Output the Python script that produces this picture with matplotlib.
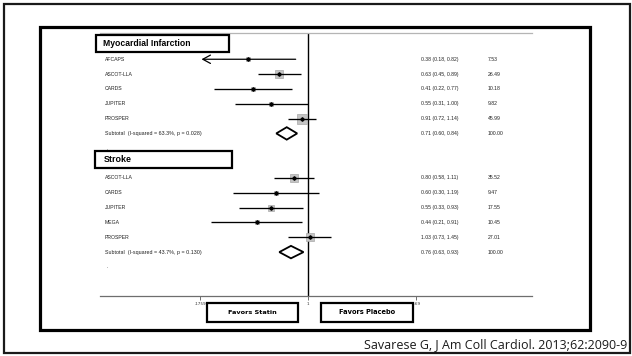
import numpy as np
import matplotlib
matplotlib.use("Agg")
import matplotlib.pyplot as plt
from matplotlib.patches import Rectangle, Polygon
from matplotlib.transforms import Affine2D, blended_transform_factory

W, H = 632, 356

# ---------------- data ----------------
mi_title = "Myocardial Infarction"
mi_studies = ["AFCAPS", "ASCOT-LLA", "CARDS", "JUPITER", "PROSPER"]
mi_or = [0.38, 0.63, 0.41, 0.55, 0.91]
mi_lo = [0.18, 0.45, 0.22, 0.31, 0.72]
mi_hi = [0.82, 0.89, 0.77, 1.00, 1.14]
mi_w = [7.53, 26.49, 10.18, 9.82, 45.99]
mi_sub = [0.71, 0.60, 0.84]
mi_sub_label = "Subtotal  (I-squared = 63.3%, p = 0.028)"

st_title = "Stroke"
st_studies = ["ASCOT-LLA", "CARDS", "JUPITER", "MEGA", "PROSPER"]
st_or = [0.80, 0.60, 0.55, 0.44, 1.03]
st_lo = [0.58, 0.30, 0.33, 0.21, 0.73]
st_hi = [1.11, 1.19, 0.93, 0.91, 1.45]
st_w = [35.52, 9.47, 17.55, 10.45, 27.01]
st_sub = [0.76, 0.63, 0.93]
st_sub_label = "Subtotal  (I-squared = 43.7%, p = 0.130)"

xticks = [0.1759, 1, 5.69]
xticklabels = [".1759", "1", "5.69"]
left_label = "Favors Statin"
right_label = "Favors Placebo"
citation = "Savarese G, J Am Coll Cardiol. 2013;62:2090-9"

# ---------------- figure ----------------
fig = plt.figure(figsize=(W / 100, H / 100), dpi=100)
renderer = fig.canvas.get_renderer()
pxT = Affine2D().scale(1 / W, -1 / H).translate(0, 1) + fig.transFigure


def fit(t, target_px):
    """scale a text's font size so that its rendered width is target_px"""
    w = t.get_window_extent(renderer=renderer).width
    if w > 0:
        t.set_fontsize(t.get_fontsize() * target_px / w)
    return t


# frames
fig.add_artist(Rectangle((4, 4), 626, 349, transform=pxT, fill=False,
                         edgecolor="#1a1a1a", lw=1.6))
fig.add_artist(Rectangle((40, 27), 550, 303, transform=pxT, fill=False,
                         edgecolor="black", lw=2.3))

ax_l, ax_r, ax_t, ax_b = 100, 532, 33, 296
ax = fig.add_axes([ax_l / W, 1 - ax_b / H, (ax_r - ax_l) / W, (ax_b - ax_t) / H])
ax.set_xscale("log")
ppu = 62.1  # pixels per ln unit
ax.set_xlim(np.exp(-(308 - ax_l) / ppu), np.exp((ax_r - 308) / ppu))
ax.set_ylim(15.96, -1.77)
for s in ["left", "right"]:
    ax.spines[s].set_visible(False)
ax.spines["top"].set_color("#b5b5b5")
ax.spines["top"].set_linewidth(0.9)
ax.spines["bottom"].set_color("#6e6e6e")
ax.spines["bottom"].set_linewidth(0.9)
ax.set_yticks([])
ax.set_xticks(xticks)
ax.set_xticklabels(xticklabels)
ax.xaxis.set_minor_locator(matplotlib.ticker.NullLocator())
ax.tick_params(axis="x", length=3, width=0.7, color="#6e6e6e", labelsize=3,
               pad=1.5, labelcolor="#333333")

ax.axvline(1, color="black", lw=1.0, zorder=2)

txt_font = "Liberation Sans"
fs = 3.7
x_lab = (105 - ax_l) / (ax_r - ax_l)
x_or = (420.7 - ax_l) / (ax_r - ax_l)
x_w = (488 - ax_l) / (ax_r - ax_l)
bt = blended_transform_factory(ax.transAxes, ax.transData)


def small(x, y, s):
    return ax.text(x, y, s, transform=bt, fontsize=fs, family=txt_font,
                   va="center", ha="left", color="#222222")


def draw_group(row0, names, ors, los, his, ws, sub, sub_label):
    for i, (n, o, lo, hi, w) in enumerate(zip(names, ors, los, his, ws)):
        y = row0 + i
        lo_c = max(lo, xticks[0])
        if lo <= xticks[0] * 1.03:
            ax.annotate("", xy=(lo_c, y), xytext=(hi, y),
                        arrowprops=dict(arrowstyle="->,head_length=0.55,head_width=0.3",
                                        lw=0.9, color="black", shrinkA=0, shrinkB=0,
                                        mutation_scale=10))
        else:
            ax.plot([lo_c, hi], [y, y], color="black", lw=0.95, zorder=3,
                    solid_capstyle="butt")
        side = 9.5 * np.sqrt(w / 46) * 0.72
        ax.plot([o], [y], marker="s", ms=side, mfc="#c4c4c4", mec="#a8a8a8",
                mew=0.5, ls="none", zorder=2.5)
        ax.plot([o], [y], marker="D", ms=1.8, color="black", ls="none", zorder=4)
        small(x_lab, y, n)
        small(x_or, y, f"{o:.2f} ({lo:.2f}, {hi:.2f})")
        small(x_w, y, f"{w:.2f}")
    ys = row0 + len(names)
    e, lo, hi = sub
    h = 0.42
    ax.add_patch(Polygon([(lo, ys), (e, ys - h), (hi, ys), (e, ys + h)], closed=True,
                         facecolor="white", edgecolor="black", lw=1.3, zorder=3))
    fit(small(x_lab, ys, sub_label), 96)
    small(x_or, ys, f"{e:.2f} ({lo:.2f}, {hi:.2f})")
    small(x_w, ys, "100.00")
    small(x_lab + 0.004, ys + 1, ".")


draw_group(0, mi_studies, mi_or, mi_lo, mi_hi, mi_w, mi_sub, mi_sub_label)
draw_group(8, st_studies, st_or, st_lo, st_hi, st_w, st_sub, st_sub_label)

# header boxes
for (x0, y0, x1, y1, t, tw) in [(96, 35, 229, 51.7, mi_title, 88),
                                (95, 150.7, 232, 168.3, st_title, 28)]:
    fig.add_artist(Rectangle((x0, y0), x1 - x0, y1 - y0, transform=pxT,
                             facecolor="white", edgecolor="black", lw=1.6, zorder=5))
    tt = fig.text(103.3, (y0 + y1) / 2 + 0.3, t, transform=pxT, fontsize=6.3,
                  family="Liberation Sans", weight="bold", va="center", ha="left",
                  zorder=6)
    fit(tt, tw)

# favors boxes
for (x0, x1, t, tw) in [(206.7, 298.3, left_label, 49), (320.7, 412.7, right_label, 56)]:
    fig.add_artist(Rectangle((x0, 303.3), x1 - x0, 18.4, transform=pxT,
                             facecolor="white", edgecolor="black", lw=1.6, zorder=5))
    tt = fig.text((x0 + x1) / 2, 312.5, t, transform=pxT, fontsize=5.2,
                  family="DejaVu Sans", weight="bold", va="center", ha="center",
                  zorder=6)
    fit(tt, tw)

ct = fig.text(627, 345, citation, transform=pxT, fontsize=7.6, family="Open Sans",
              va="center", ha="right", color="#1a1a1a")
fit(ct, 262)

fig.savefig("out.png", dpi=100)
